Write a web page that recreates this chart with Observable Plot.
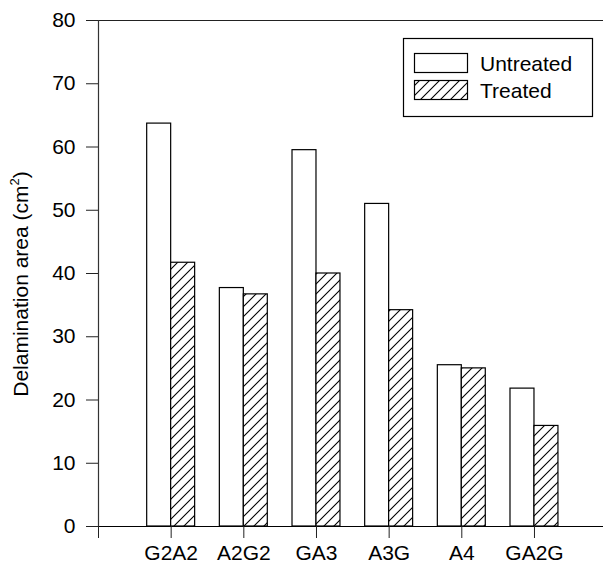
<!DOCTYPE html>
<html>
<head>
<meta charset="utf-8">
<script src="https://cdn.jsdelivr.net/npm/d3@7"></script>
<script src="https://cdn.jsdelivr.net/npm/@observablehq/plot@0.6"></script>
<style>
  html, body { margin: 0; padding: 0; background: #fff; }
  #chart { position: relative; width: 603px; height: 574px; }
</style>
</head>
<body>
<div id="chart"></div>
<script>
const categories = ["G2A2", "A2G2", "GA3", "A3G", "A4", "GA2G"];
const untreated = [63.7, 37.7, 59.5, 51.0, 25.5, 21.8];
const treated = [41.7, 36.7, 40.0, 34.2, 25.0, 15.9];
const seriesNames = ["Untreated", "Treated"];
const yTicks = [0, 10, 20, 30, 40, 50, 60, 70, 80];

const rows = [];
categories.forEach((c, i) => {
  rows.push({cat: c, pos: i + 1, series: "Untreated", value: untreated[i], x1: i + 1 - 0.33, x2: i + 1});
  rows.push({cat: c, pos: i + 1, series: "Treated", value: treated[i], x1: i + 1, x2: i + 1 + 0.33});
});

const font = "'Liberation Sans', Arial, Helvetica, sans-serif";

const plot = Plot.plot({
  width: 603,
  height: 574,
  marginLeft: 98,
  marginRight: 0,
  marginTop: 20,
  marginBottom: 48,
  style: {fontFamily: font, fontSize: "21px", color: "#000", background: "#fff"},
  x: {domain: [0, 6.95]},
  y: {domain: [0, 80]},
  marks: [
    Plot.rectY(rows, {
      x1: "x1", x2: "x2", y: "value",
      fill: d => d.series === "Untreated" ? "white" : "url(#hatch)",
      stroke: "black", strokeWidth: 1.2
    }),
    Plot.ruleY([80], {stroke: "#222", strokeWidth: 1}),
    Plot.ruleY([0], {stroke: "black", strokeWidth: 1.2}),
    Plot.ruleX([0], {stroke: "#333", strokeWidth: 1.2}),
    Plot.axisY({ticks: yTicks, tickSize: 12, tickPadding: 11, label: null, stroke: "#222"}),
    Plot.axisX({ticks: [0, 1, 2, 3, 4, 5, 6], tickSize: 12, tickPadding: 7,
      tickFormat: i => i === 0 ? "" : categories[i - 1], label: null, stroke: "#222"})
  ]
});

document.getElementById("chart").appendChild(plot);

const svg = d3.select(plot);
const defs = svg.insert("defs", ":first-child");
const pat = defs.append("pattern")
  .attr("id", "hatch")
  .attr("patternUnits", "userSpaceOnUse")
  .attr("width", 10).attr("height", 10);
pat.append("rect").attr("width", 10).attr("height", 10).attr("fill", "white");
pat.append("path")
  .attr("d", "M-1,1 L1,-1 M0,10 L10,0 M9,11 L11,9")
  .attr("stroke", "black").attr("stroke-width", 1.1);

// Y axis title
const yLabel = svg.append("text")
  .attr("transform", "translate(28,284) rotate(-90)")
  .attr("text-anchor", "middle")
  .attr("font-family", font)
  .attr("font-size", 21)
  .attr("fill", "black");
yLabel.append("tspan").text("Delamination area (cm");
yLabel.append("tspan").attr("font-size", 13).attr("dy", -9).text("2");
yLabel.append("tspan").attr("dy", 9).text(")");

// Legend
const lg = svg.append("g").attr("font-family", font).attr("font-size", 21).attr("text-anchor", "start");
lg.append("rect").attr("x", 403.5).attr("y", 38.5).attr("width", 189).attr("height", 78)
  .attr("fill", "white").attr("stroke", "black").attr("stroke-width", 1.2);
seriesNames.forEach((name, k) => {
  const yy = 53 + k * 27;
  lg.append("rect").attr("x", 414.5).attr("y", yy + 0.5).attr("width", 53).attr("height", 19)
    .attr("fill", k === 0 ? "white" : "url(#hatch)").attr("stroke", "black").attr("stroke-width", 1.2);
  lg.append("text").attr("x", 480).attr("y", yy + 18).attr("fill", "black")
    .attr("text-anchor", "start").text(name);
});
</script>
</body>
</html>
